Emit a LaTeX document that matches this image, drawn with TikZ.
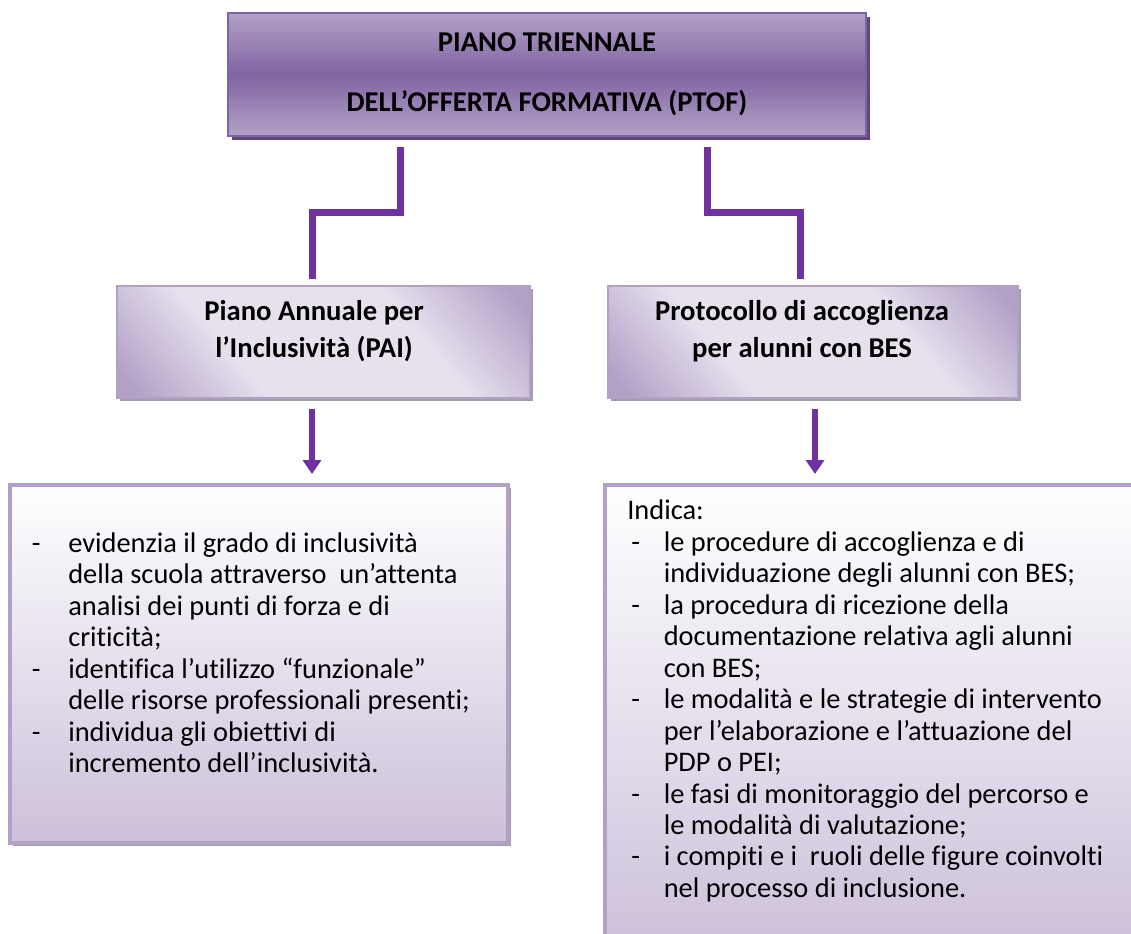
\documentclass[tikz,border=0pt]{standalone}
\usepackage{fontspec}
\setmainfont{Carlito}[Ligatures=NoCommon]
\usetikzlibrary{shadows,arrows.meta}

\definecolor{viola}{HTML}{7030A0}
\definecolor{lilla}{HTML}{B2A1C7}
\definecolor{lillascuro}{HTML}{8064A2}
\definecolor{lillachiaro}{HTML}{E7E1EE}
\definecolor{lillafondo}{HTML}{CCC0DA}
\definecolor{ombra}{HTML}{5F497A}
\definecolor{ombragrigia}{HTML}{A49EAB}

\pgfdeclareverticalshading{fascia}{100bp}{color(0bp)=(lilla); color(25bp)=(lilla);
  color(50bp)=(lillascuro); color(75bp)=(lilla); color(100bp)=(lilla)}
\pgfdeclarehorizontalshading{diagonale}{100bp}{color(0bp)=(lilla); color(18bp)=(lilla);
  color(36bp)=(lillachiaro); color(64bp)=(lillachiaro); color(82bp)=(lilla); color(100bp)=(lilla)}

\tikzset{
  titolo/.style={draw=lillascuro, line width=1.5pt, shading=fascia,
    drop shadow={shadow xshift=3pt, shadow yshift=-3pt, fill=ombra, opacity=1},
    font=\bfseries\fontsize{21.5}{45}\selectfont, align=center},
  medio/.style={draw=lilla, line width=2pt, shading=diagonale, shading angle=40,
    drop shadow={shadow xshift=2.5pt, shadow yshift=-2.5pt, fill=ombragrigia, opacity=1}},
  basso/.style={draw=lilla, line width=3pt, top color=white, bottom color=lillafondo,
    drop shadow={shadow xshift=2.5pt, shadow yshift=-2.5pt, fill=ombragrigia, opacity=1}},
  intestazione/.style={font=\bfseries\fontsize{21.5}{27.75}\selectfont, align=center},
  elenco/.style={font=\fontsize{21.3}{23.6}\selectfont, inner sep=0pt, anchor=north west},
  linea/.style={draw=viola, line width=5.25pt},
  freccia/.style={draw=viola, line width=4.5pt, -{Triangle[width=13.5pt,length=10.5pt]}}
}

\begin{document}
\begin{tikzpicture}[x=0.75pt,y=-0.75pt]
  \useasboundingbox (0,0) rectangle (1131,933);
  \clip (0,0) rectangle (1131,933);

  % riquadri
  \node[titolo, minimum width=638*0.75pt, minimum height=123*0.75pt] (ptof) at (547,74)
    {\raisebox{3pt}{PIANO TRIENNALE}\\ \raisebox{3pt}{DELL’OFFERTA FORMATIVA (PTOF)}};
  \node[medio, minimum width=413*0.75pt, minimum height=112*0.75pt] (pai) at (323.5,342) {};
  \node[medio, minimum width=410*0.75pt, minimum height=112*0.75pt] (prot) at (813,342) {};
  \node[intestazione] (paitesto) at (314,331) {Piano Annuale per\\ l’Inclusività (PAI)};
  \node[intestazione] (prottesto) at (802,331) {Protocollo di accoglienza\\ per alunni con BES};
  \node[basso, minimum width=498*0.75pt, minimum height=358*0.75pt] (paibox) at (259,664) {};
  \node[basso, minimum width=540*0.75pt, minimum height=470*0.75pt] (protbox) at (875,720) {};

  % testi
  \node[elenco] (paielenco) at (31.5,530) {%
    \renewcommand\arraystretch{1}%
    \begin{tabular}{@{}p{27.4pt}@{}l@{}}
      - & evidenzia il grado di inclusività\\
        & della scuola attraverso\ \ un’attenta\\
        & analisi dei punti di forza e di\\
        & criticità;\\
      - & identifica l’utilizzo “funzionale”\\
        & delle risorse professionali presenti;\\
      - & individua gli obiettivi di\\
        & incremento dell’inclusività.
    \end{tabular}};
  \node[elenco] (protelenco) at (627,497.5) {%
    \renewcommand\arraystretch{1}%
    \begin{tabular}{@{}p{27.4pt}@{}l@{}}
      \multicolumn{2}{@{}l@{}}{Indica:}\\
      \hspace{3pt}- & le procedure di accoglienza e di\\
        & individuazione degli alunni con BES;\\
      \hspace{3pt}- & la procedura di ricezione della\\
        & documentazione relativa agli alunni\\
        & con BES;\\
      \hspace{3pt}- & le modalità e le strategie di intervento\\
        & per l’elaborazione e l’attuazione del\\
        & PDP o PEI;\\
      \hspace{3pt}- & le fasi di monitoraggio del percorso e\\
        & le modalità di valutazione;\\
      \hspace{3pt}- & i compiti e i\ \ ruoli delle figure coinvolti\\
        & nel processo di inclusione.
    \end{tabular}};

  % collegamenti
  \coordinate (s1) at (400,147);
  \coordinate (s2) at (312,279);
  \coordinate (d1) at (707,147);
  \coordinate (d2) at (800,279);
  \draw[linea] (s1) -- ++(0,65) -| (s2);
  \draw[linea] (d1) -- ++(0,65) -| (d2);

  \coordinate (f1) at (312,409);
  \coordinate (f2) at (312,474);
  \coordinate (g1) at (815,409);
  \coordinate (g2) at (815,474);
  \draw[freccia] (f1) -- (f2);
  \draw[freccia] (g1) -- (g2);
\end{tikzpicture}
\end{document}
